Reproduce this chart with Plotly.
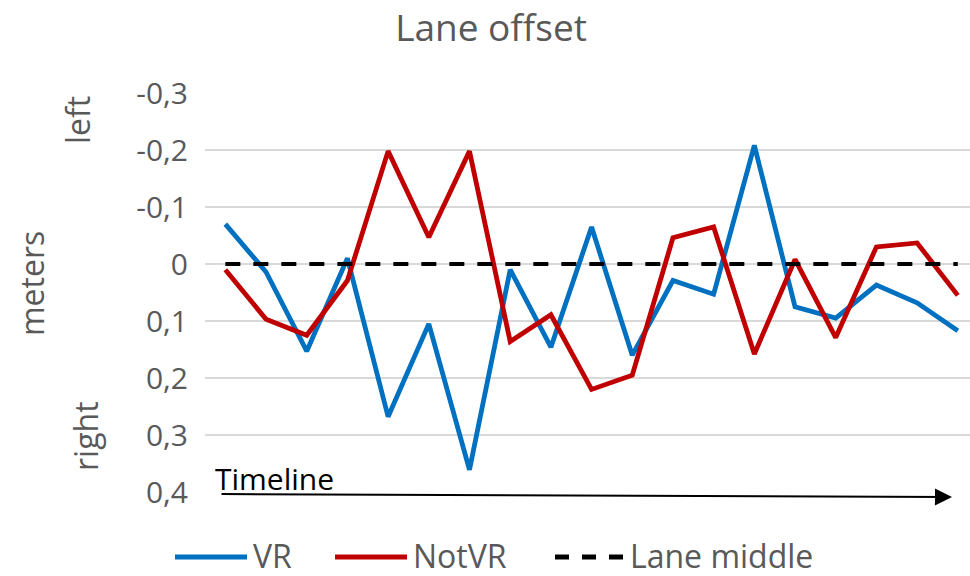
import plotly.graph_objects as go

# offsets per step along the timeline (m), negative = left of lane middle
steps = list(range(19))
vr = [-0.07, 0.014, 0.153, -0.01, 0.268, 0.105, 0.361, 0.01, 0.146, -0.065,
      0.160, 0.029, 0.053, -0.208, 0.075, 0.095, 0.037, 0.068, 0.117]
not_vr = [0.01, 0.097, 0.125, 0.029, -0.198, -0.047, -0.198, 0.136, 0.089, 0.220,
          0.195, -0.046, -0.065, 0.158, -0.008, 0.129, -0.030, -0.037, 0.055]
lane_middle = [0.0] * len(steps)

tick_vals = [-0.3, -0.2, -0.1, 0.0, 0.1, 0.2, 0.3, 0.4]
tick_text = ["-0,3", "-0,2", "-0,1", "0", "0,1", "0,2", "0,3", "0,4"]

BLUE = "#0070C0"
RED = "#C00000"
GREY = "#595959"
FONT = "Open Sans"

# plot area in pixels, used to place the hand-made legend and labels
L, R, T, B = 205, 970, 93, 492


def px(x):
    return (x - L) / (R - L)


def py(y):
    return (B - y) / (B - T)


fig = go.Figure()
fig.add_trace(go.Scatter(x=steps, y=vr, mode="lines", name="VR",
                         line=dict(color=BLUE, width=4.8)))
fig.add_trace(go.Scatter(x=steps, y=not_vr, mode="lines", name="NotVR",
                         line=dict(color=RED, width=4.8)))
fig.add_trace(go.Scatter(x=steps, y=lane_middle, mode="lines", name="Lane middle",
                         line=dict(color="black", width=4, dash="15px,13px")))

annotations = []
shapes = []

# legend drawn by hand so the sample lines match the original length
legend_items = [
    ("VR", dict(color=BLUE, width=5), 175, 247, 252),
    ("NotVR", dict(color=RED, width=5), 335, 407, 412),
    ("Lane middle", dict(color="black", width=5, dash="14px,13px"), 555, 623, 629),
]
ly = py(557)
for label, line, x0, x1, tx in legend_items:
    shapes.append(dict(type="line", xref="paper", yref="paper",
                       x0=px(x0), x1=px(x1), y0=ly, y1=ly, line=line))
    annotations.append(dict(text=label, xref="paper", yref="paper", x=px(tx), y=py(555),
                            xanchor="left", yanchor="middle", showarrow=False,
                            borderpad=0,
                            font=dict(family=FONT, size=32, color=GREY)))

# axis side labels
for text, cx, cy in [("meters", 31, 284), ("left", 77, 120), ("right", 85, 436)]:
    annotations.append(dict(text=text, xref="paper", yref="paper", x=px(cx), y=py(cy),
                            xanchor="center", yanchor="middle", textangle=-90,
                            showarrow=False, font=dict(family=FONT, size=32, color=GREY)))

# timeline arrow
annotations.append(dict(text="Timeline", xref="paper", yref="paper", x=px(213), y=py(478),
                        xanchor="left", yanchor="middle", showarrow=False,
                        font=dict(family=FONT, size=30, color="black")))
annotations.append(dict(text="", xref="paper", yref="paper", x=px(952), y=py(497),
                        ax=220 - 952, ay=-3, showarrow=True, arrowhead=2,
                        arrowsize=1.7, arrowwidth=2, arrowcolor="black"))

fig.update_layout(
    width=970, height=576,
    margin=dict(l=L, r=970 - R, t=T, b=576 - B),
    plot_bgcolor="white", paper_bgcolor="white",
    showlegend=False,
    title=dict(text="Lane offset", x=491 / 970, xanchor="center",
               y=1 - 28 / 576, yanchor="middle", yref="container",
               font=dict(family=FONT, size=37, color=GREY)),
    font=dict(family=FONT, color=GREY),
    shapes=shapes,
    annotations=annotations,
)
fig.update_xaxes(range=[-0.5, 18.3], showticklabels=False, showgrid=False,
                 zeroline=False, showline=False)
fig.update_yaxes(range=[0.4, -0.3], tickvals=tick_vals, ticktext=tick_text,
                 showgrid=True, gridcolor="#D9D9D9", gridwidth=1.5, zeroline=False,
                 showline=False, ticks="", ticklabelstandoff=16,
                 tickfont=dict(family=FONT, size=30, color=GREY))

# drop the default body margin so the 970x576 figure fills the window exactly
fig.write_html("out.html", config={"displayModeBar": False},
               post_script="document.body.style.margin='0';")
